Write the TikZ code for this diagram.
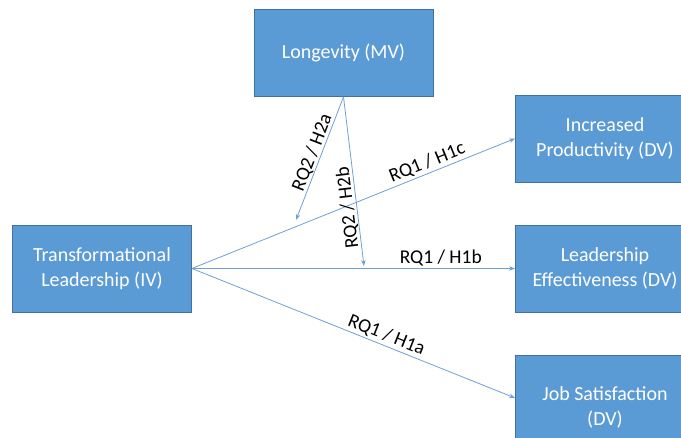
\documentclass[tikz,border=0pt]{standalone}
\usepackage{fontspec}
\setmainfont{Carlito}
\usetikzlibrary{arrows.meta}
\definecolor{boxblue}{RGB}{91,155,213}
\definecolor{boxedge}{RGB}{65,113,156}
\definecolor{linkblue}{RGB}{110,160,210}
\tikzset{
	var/.style={draw=boxedge, line width=0.8pt, fill=boxblue, text=white, minimum width=179pt, minimum height=87pt, align=center, font=\fontsize{20}{25}\selectfont},
	link/.style={draw=linkblue, line width=0.8pt, -{Stealth[length=6pt,width=4.5pt]}},
	hyp/.style={font=\fontsize{19.5}{23}\selectfont, inner sep=2pt}
}

\begin{document}
\begin{tikzpicture}[x=1pt,y=1pt]
		%%%%% START %%%%%
		\useasboundingbox (0,0) rectangle (681,438);
		
		\node[var] (lon) at (343.5,385) {Longevity (MV)};
		\node[var] (tl) at (102,169.5) {Transformational\\Leadership (IV)};
		
		\node[var] (ip) at (605,299.5) {Increased\\Productivity (DV)};
		\node[var] (le) at (605,169.5) {Leadership\\Effectiveness (DV)};
		\node[var, minimum height=104pt] (js) at (605,31) {Job Satisfaction\\(DV)};
		
		\coordinate (h2a) at (296,218);
		\coordinate (h2b) at (364,172);
		
		\draw[link] (tl.east) -- node[hyp, pos=0.74, sloped, above] {RQ1 / H1c} (ip.west);
		\draw[link] (tl.east) -- node[hyp, pos=0.77, above] {RQ1 / H1b} (le.west);
		\draw[link] (tl.east) -- node[hyp, pos=0.59, sloped, above] {RQ1 / H1a} ([yshift=9pt]js.west);
		
		\draw[link, {Stealth[length=6pt,width=4.5pt]}-] (h2a) -- node[hyp, inner sep=0.5pt, pos=0.52, sloped, above] {RQ2 / H2a} (lon.south);
		\draw[link, {Stealth[length=6pt,width=4.5pt]}-] (h2b) -- node[hyp, inner sep=0.5pt, pos=0.35, sloped, allow upside down, above] {RQ2 / H2b} (lon.south);
		
		%%%%% END %%%%%
\end{tikzpicture}
\end{document}
